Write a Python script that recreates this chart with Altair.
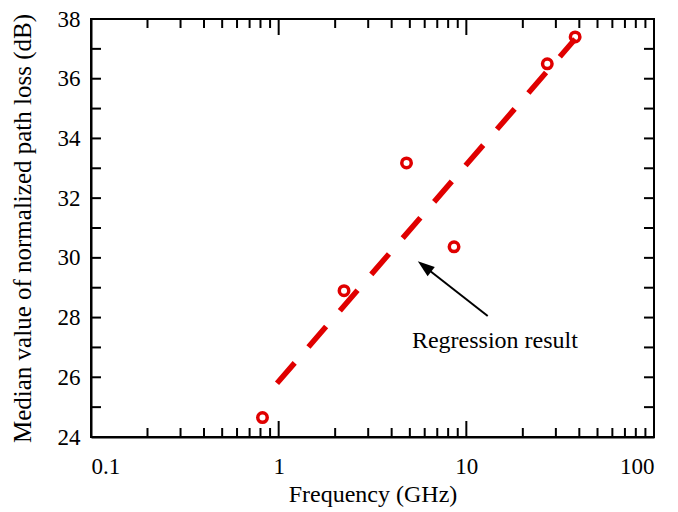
import altair as alt
import pandas as pd

# ---- data ----
freq_obs = [0.82, 2.23, 4.8, 8.6, 27.0, 38.0]
loss_obs = [24.65, 28.9, 33.18, 30.37, 36.5, 37.4]

freq_reg = [0.98, 38.0]
loss_reg = [25.8, 37.33]

x_major = [0.1, 1, 10, 100]
x_minor = [0.2, 0.3, 0.4, 0.5, 0.6, 0.7, 0.8, 0.9,
           2, 3, 4, 5, 6, 7, 8, 9,
           20, 30, 40, 50, 60, 70, 80, 90]
y_ticks = [24, 25, 26, 27, 28, 29, 30, 31, 32, 33, 34, 35, 36, 37, 38]
y_labels = [24, 26, 28, 30, 32, 34, 36, 38]

annot_label = ["Regression result"]
annot_x = [5.13]
annot_y = [26.98]
arrow_x = [13.0]
arrow_y = [28.05]
arrow_x2 = [6.0]
arrow_y2 = [29.7]
head_x = [6.11]
head_y = [29.67]

W, H = 563, 418
RED = "#e00000"
FONT = "Liberation Serif"

xs = alt.Scale(type="log", domain=[0.1, 100])
ys = alt.Scale(domain=[24, 38], zero=False, nice=False)

common = dict(labelFont=FONT, labelFontSize=23, labelColor="black",
              titleFont=FONT, titleFontWeight="normal",
              titleColor="black", grid=False, tickSize=0,
              domainColor="black", domainWidth=2)
xaxis = alt.Axis(values=x_major, format="~g", labelPadding=18,
                 title="Frequency (GHz)", titlePadding=4, titleFontSize=24,
                 **common)
yaxis = alt.Axis(values=y_labels, labelPadding=11,
                 title="Median value of normalized path loss (dB)",
                 titlePadding=22, titleFontSize=25, **common)

def X(f):
    return alt.X(f, type="quantitative", scale=xs, axis=xaxis)

def Y(f):
    return alt.Y(f, type="quantitative", scale=ys, axis=yaxis)

obs = pd.DataFrame({"f": freq_obs, "l": loss_obs})
reg = pd.DataFrame({"f": freq_reg, "l": loss_reg})
xmaj = pd.DataFrame({"f": x_major})
xmin = pd.DataFrame({"f": x_minor})
ytk = pd.DataFrame({"l": y_ticks})
ann = pd.DataFrame({"t": annot_label, "f": annot_x, "l": annot_y})
arr = pd.DataFrame({"f": arrow_x, "l": arrow_y, "f2": arrow_x2, "l2": arrow_y2})
head = pd.DataFrame({"f": head_x, "l": head_y})

line = alt.Chart(reg).mark_line(color=RED, strokeWidth=5.5, strokeDash=[27, 21],
                                strokeCap="butt").encode(x=X("f"), y=Y("l"))
pts = alt.Chart(obs).mark_point(shape="circle", color=RED, size=90,
                                strokeWidth=3.5, filled=False, opacity=1).encode(
    x=X("f"), y=Y("l"))

tick_style = dict(color="black", strokeWidth=2)
xb_maj = alt.Chart(xmaj).mark_rule(**tick_style).encode(
    x=X("f"), y=alt.value(H), y2=alt.value(H - 16))
xt_maj = alt.Chart(xmaj).mark_rule(**tick_style).encode(
    x=X("f"), y=alt.value(0), y2=alt.value(16))
xb_min = alt.Chart(xmin).mark_rule(**tick_style).encode(
    x=X("f"), y=alt.value(H), y2=alt.value(H - 9))
xt_min = alt.Chart(xmin).mark_rule(**tick_style).encode(
    x=X("f"), y=alt.value(0), y2=alt.value(9))
yl = alt.Chart(ytk).mark_rule(**tick_style).encode(
    y=Y("l"), x=alt.value(0), x2=alt.value(10))
yr = alt.Chart(ytk).mark_rule(**tick_style).encode(
    y=Y("l"), x=alt.value(W), x2=alt.value(W - 10))

txt = alt.Chart(ann).mark_text(font=FONT, fontSize=24, align="left",
                               baseline="alphabetic", color="black").encode(
    x=X("f"), y=Y("l"), text="t:N")
arrow = alt.Chart(arr).mark_rule(color="black", strokeWidth=2).encode(
    x=X("f"), y=Y("l"), x2="f2", y2="l2")
arrowhead = alt.Chart(head).mark_point(
    shape="M0,-1L0.55,0.6L-0.55,0.6Z", filled=True, color="black",
    size=450, angle=308, opacity=1, strokeWidth=0).encode(x=X("f"), y=Y("l"))

chart = alt.layer(
    xb_maj, xt_maj, xb_min, xt_min, yl, yr, line, pts, arrow, arrowhead, txt
).properties(
    width=W, height=H,
    autosize=alt.AutoSizeParams(type="none"),
    padding={"left": 91, "top": 19, "right": 24, "bottom": 75},
    background="white",
).configure_view(
    stroke="black", strokeWidth=2
)

chart.save("out.html", embed_options={"renderer": "svg", "actions": False})
